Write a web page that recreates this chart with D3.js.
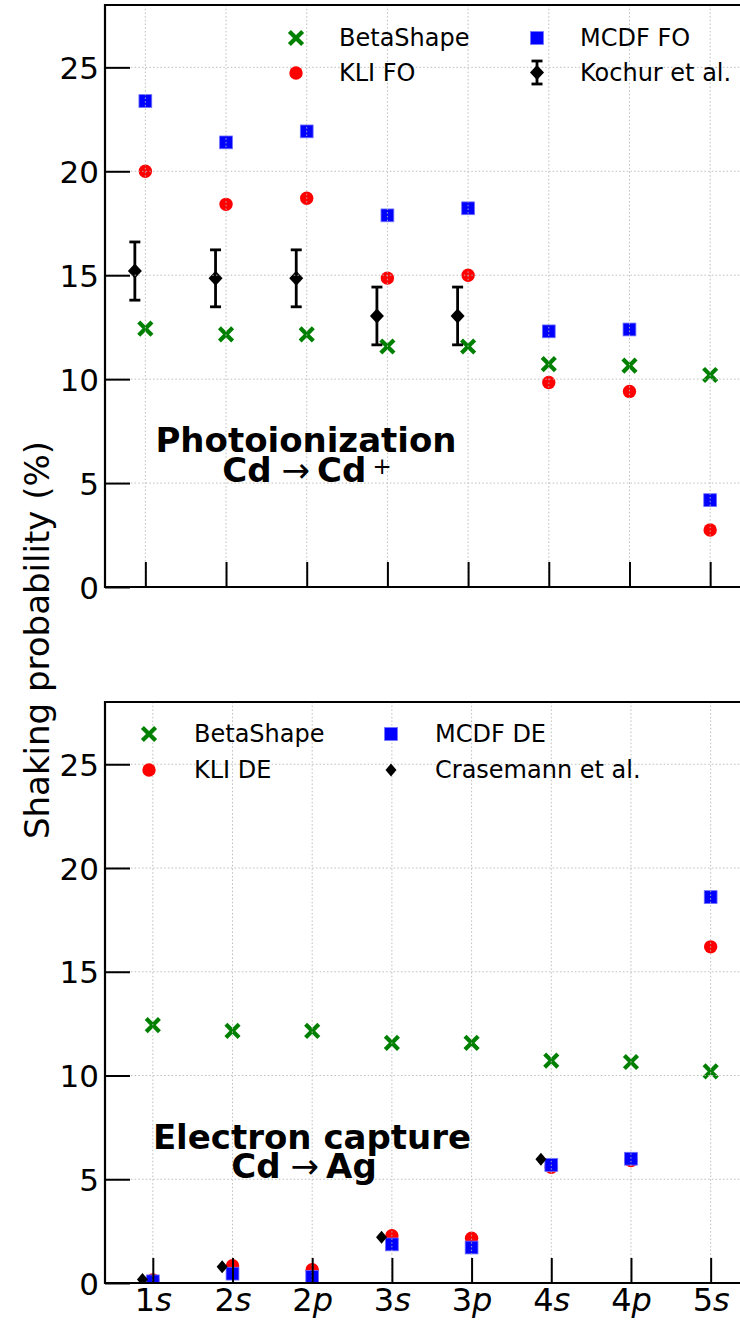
<!DOCTYPE html>
<html>
<head>
<meta charset="utf-8">
<script src="https://cdn.jsdelivr.net/npm/d3@7"></script>
<style>
  body { margin: 0; background: #fff; }
  svg { display: block; font-family: "DejaVu Sans", sans-serif; }
</style>
</head>
<body>
<svg id="chart" width="740" height="1320"></svg>
<script>
// shells on the x axis
var shells = ["1s", "2s", "2p", "3s", "3p", "4s", "4p", "5s"];
var yTicks = [0, 5, 10, 15, 20, 25];

// photoionization (top)
var betaShape = [12.43, 12.15, 12.15, 11.57, 11.57, 10.72, 10.65, 10.2];
var kliFO = [20.0, 18.41, 18.7, 14.86, 15.0, 9.84, 9.41, 2.74];
var mcdfFO = [23.38, 21.39, 21.92, 17.88, 18.22, 12.3, 12.39, 4.18];
var kochurShells = ["1s", "2s", "2p", "3s", "3p"];
var kochur = [15.2, 14.85, 14.85, 13.04, 13.04];
var kochurErr = [1.4, 1.37, 1.37, 1.39, 1.39];

// electron capture (bottom)
var kliDE = [0.15, 0.83, 0.64, 2.28, 2.16, 5.58, 5.9, 16.2];
var mcdfDE = [0.08, 0.45, 0.3, 1.86, 1.71, 5.69, 5.99, 18.6];
var crasemannShells = ["1s", "2s", "3s", "4s"];
var crasemann = [0.17, 0.78, 2.2, 5.96];

var svg = d3.select("#chart");
var expShift = 0.13; // experimental points drawn a bit left of the shell

var GREEN = "#008000", RED = "#ff0000", BLUE = "#0000ff";

/* 共通の描画部品 */
function cross(g, x, y, s){
    g.append("path")
      .attr("d", "M"+(x-s)+","+(y-s)+"L"+(x+s)+","+(y+s)+"M"+(x-s)+","+(y+s)+"L"+(x+s)+","+(y-s))
      .attr("stroke", GREEN).attr("stroke-width", 4.2).attr("fill", "none");
}
function dot(g, x, y){
    g.append("circle").attr("cx", x).attr("cy", y).attr("r", 6.7).attr("fill", RED);
}
function square(g, x, y){
    g.append("rect").attr("x", x-6.4).attr("y", y-6.4).attr("width", 12.8).attr("height", 12.8)
      .attr("fill", BLUE).attr("stroke", "#6f6fff").attr("stroke-width", 0.8);
}
function diamond(g, x, y, w, h){
    g.append("path")
      .attr("d", "M"+x+","+(y-h)+"L"+(x+w)+","+y+"L"+x+","+(y+h)+"L"+(x-w)+","+y+"Z")
      .attr("fill", "#000");
}
function errbar(g, x, y0, y1){
    g.append("line").attr("x1", x).attr("x2", x).attr("y1", y0).attr("y2", y1)
      .attr("stroke", "#000").attr("stroke-width", 2.8);
    [y0, y1].forEach(function(yy){
        g.append("line").attr("x1", x-5.5).attr("x2", x+5.5).attr("y1", yy).attr("y2", yy)
          .attr("stroke", "#000").attr("stroke-width", 2.8);
    });
}

function panel(opt){
    var x = d3.scaleLinear().domain(opt.xDomain).range([105, 750.5]);
    var y = d3.scaleLinear().domain([0, 28]).range([opt.bottom, opt.top]);
    var xi = function(s){ return x(shells.indexOf(s)); };
    var g = svg.append("g");

    var clipId = "clip" + opt.id;
    svg.append("clipPath").attr("id", clipId).append("rect")
      .attr("x", 105).attr("y", opt.top).attr("width", 646).attr("height", opt.bottom - opt.top);

    // markers
    var marks = g.append("g").attr("clip-path", "url(#"+clipId+")");
    opt.beta.forEach(function(v, i){ cross(marks, xi(shells[i]), y(v), 6.6); });
    opt.kli.forEach(function(v, i){ dot(marks, xi(shells[i]), y(v)); });
    opt.mcdf.forEach(function(v, i){ square(marks, xi(shells[i]), y(v)); });
    opt.expVals.forEach(function(v, i){
        var cx = x(shells.indexOf(opt.expShells[i]) - expShift);
        if(opt.expErr) errbar(marks, cx, y(v + opt.expErr[i]), y(v - opt.expErr[i]));
        diamond(marks, cx, y(v), opt.dw, opt.dh);
    });

    // grid (dotted, drawn over the markers)
    var grid = g.append("g").attr("stroke", "#b8b8b8").attr("stroke-width", 1)
      .attr("stroke-dasharray", "1.5,2.2").attr("opacity", 0.9);
    yTicks.filter(function(t){ return t > 0; }).forEach(function(t){
        grid.append("line").attr("x1", 105).attr("x2", 751).attr("y1", y(t)).attr("y2", y(t));
    });
    shells.forEach(function(s){
        grid.append("line").attr("x1", xi(s)).attr("x2", xi(s)).attr("y1", opt.top).attr("y2", opt.bottom);
    });

    // axes
    var ya = g.append("g").attr("transform", "translate(105,0)")
      .call(d3.axisLeft(y).tickValues(yTicks).tickSize(-25).tickPadding(6).tickFormat(d3.format("d")));
    var xa = g.append("g").attr("transform", "translate(0,"+opt.bottom+")")
      .call(d3.axisBottom(x).tickValues(d3.range(shells.length)).tickSize(-25).tickPadding(5)
        .tickFormat(function(i){ return shells[i]; }));
    [ya, xa].forEach(function(a){
        a.attr("font-family", "DejaVu Sans");
        a.select(".domain").remove();
        a.selectAll(".tick line").attr("stroke", "#000").attr("stroke-width", 2);
        a.selectAll("text").attr("fill", "#000");
    });
    ya.attr("font-size", 31);
    ya.selectAll("text").attr("dy", "0.36em");
    if(opt.xLabels){
        xa.attr("font-size", 32);
        xa.selectAll(".tick text").each(function(i){
            var s = shells[i];
            var t = d3.select(this).text("");
            t.append("tspan").text(s.charAt(0));
            t.append("tspan").attr("font-style", "italic").text(s.charAt(1));
        });
    } else {
        xa.selectAll("text").remove();
    }

    // frame: left, top, bottom
    var fr = g.append("g").attr("stroke", "#000").attr("stroke-width", 2.2).attr("fill", "none");
    fr.append("path").attr("d", "M751,"+opt.top+"H105V"+opt.bottom+"H751");

    return {x: x, y: y, g: g};
}

panel({
    id: "a", top: 5, bottom: 587, xDomain: [-0.5, 7.5], xLabels: false,
    beta: betaShape, kli: kliFO, mcdf: mcdfFO,
    expShells: kochurShells, expVals: kochur, expErr: kochurErr, dw: 7, dh: 7.5
});
panel({
    id: "b", top: 702, bottom: 1283, xDomain: [-0.6, 7.5], xLabels: true,
    beta: betaShape, kli: kliDE, mcdf: mcdfDE,
    expShells: crasemannShells, expVals: crasemann, expErr: null, dw: 5.5, dh: 6.5
});

// legends
function legendText(x, y, t){
    svg.append("text").attr("x", x).attr("y", y).attr("dy", "0.35em")
      .attr("font-size", 24).attr("fill", "#000").text(t);
}
cross(svg, 296, 38, 6.6); legendText(339, 38, "BetaShape");
dot(svg, 296, 73); legendText(339, 73, "KLI FO");
square(svg, 537, 38); legendText(580, 38, "MCDF FO");
errbar(svg, 537, 61, 84); diamond(svg, 537, 72.5, 7, 7.5); legendText(580, 73, "Kochur et al.");

cross(svg, 149, 734, 6.6); legendText(194, 734, "BetaShape");
dot(svg, 149, 770); legendText(194, 770, "KLI DE");
square(svg, 391, 734); legendText(435, 734, "MCDF DE");
diamond(svg, 391, 770, 5.5, 6.5); legendText(435, 770, "Crasemann et al.");

// annotations
function reaction(cx, baseline, from, to, sup){
    var t = svg.append("text").attr("x", cx).attr("y", baseline).attr("text-anchor", "middle")
      .attr("font-size", 34).attr("font-weight", "bold").attr("fill", "#000");
    t.append("tspan").text(from);
    t.append("tspan").attr("dx", 10).attr("font-weight", "normal").text("\u2192");
    t.append("tspan").attr("dx", 7).text(to);
    if(sup) t.append("tspan").attr("dx", 6).attr("dy", -8).attr("font-weight", "normal")
      .attr("font-size", 23).text(sup);
}
svg.append("text").attr("x", 306).attr("y", 452).attr("text-anchor", "middle")
  .attr("font-size", 34).attr("font-weight", "bold").text("Photoionization");
reaction(307, 482, "Cd", "Cd", "+");
svg.append("text").attr("x", 312).attr("y", 1149).attr("text-anchor", "middle")
  .attr("font-size", 34).attr("font-weight", "bold").text("Electron capture");
reaction(304, 1178, "Cd", "Ag", null);

// y title
svg.append("text").attr("transform", "translate(49,640) rotate(-90)")
  .attr("text-anchor", "middle").attr("font-size", 34).attr("fill", "#000")
  .text("Shaking probability (%)");
</script>
</body>
</html>
